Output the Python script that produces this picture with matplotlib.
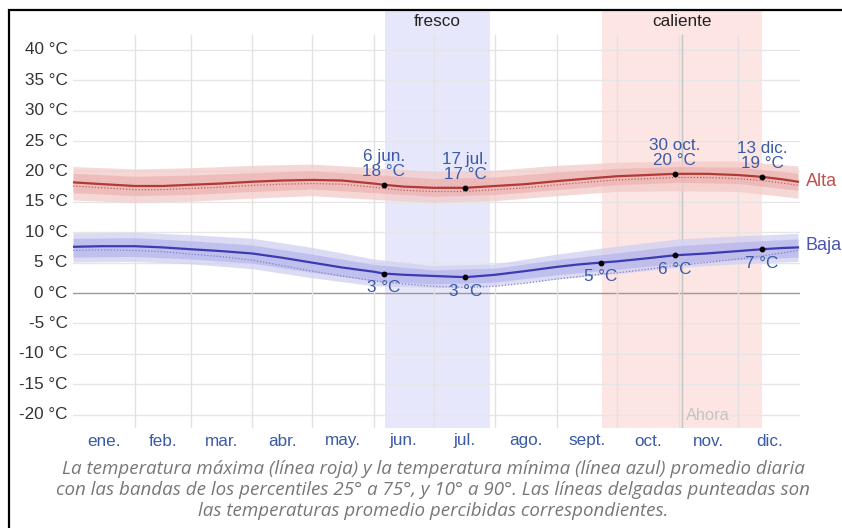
import numpy as np
import matplotlib.pyplot as plt
from matplotlib.patches import Rectangle

# día del año (0 = 1 ene.) para las curvas promedio
days = [0, 15, 31, 45, 59, 74, 90, 105, 120, 135, 151, 156, 166, 181, 197,
        212, 227, 243, 254, 265, 273, 288, 302, 318, 334, 346, 356, 364]
high = [18.2, 17.9, 17.6, 17.6, 17.8, 18.0, 18.3, 18.5, 18.6, 18.5, 18.0, 17.8, 17.5, 17.3, 17.3,
        17.6, 17.9, 18.4, 18.7, 19.0, 19.2, 19.4, 19.6, 19.6, 19.4, 19.1, 18.7, 18.3]
low = [7.6, 7.7, 7.7, 7.5, 7.2, 6.9, 6.5, 5.8, 5.0, 4.2, 3.5, 3.2, 3.0, 2.8, 2.6,
       3.0, 3.6, 4.3, 4.7, 5.0, 5.2, 5.7, 6.2, 6.5, 6.9, 7.2, 7.4, 7.5]
# temperaturas percibidas (líneas punteadas)
high_feel = [17.6, 17.3, 17.0, 17.0, 17.2, 17.4, 17.7, 17.9, 18.0, 17.9, 17.4, 17.2, 16.9, 16.7, 16.7,
             17.0, 17.3, 17.8, 18.1, 18.4, 18.6, 18.8, 19.0, 19.0, 18.8, 18.5, 18.1, 17.7]
low_feel = [7.0, 7.1, 7.0, 6.8, 6.4, 6.0, 5.4, 4.5, 3.6, 2.8, 2.0, 1.8, 1.5, 1.1, 0.9,
            1.1, 1.6, 2.3, 2.7, 3.1, 3.3, 3.9, 4.5, 5.0, 5.6, 6.1, 6.6, 7.0]

# bandas de percentiles (mensuales)
band_days = [0, 31, 59, 90, 120, 151, 181, 212, 243, 273, 304, 334, 364]
high_p90 = [20.8, 20.4, 20.6, 21.0, 21.2, 20.6, 20.0, 20.2, 21.0, 21.5, 21.7, 21.7, 20.9]
high_p75 = [19.7, 19.2, 19.4, 19.8, 20.1, 19.5, 18.8, 19.1, 19.9, 20.5, 20.8, 20.7, 19.7]
high_p25 = [16.5, 16.0, 16.2, 16.7, 17.1, 16.5, 15.9, 16.2, 17.0, 17.8, 18.2, 18.0, 16.9]
high_p10 = [15.3, 14.9, 15.1, 15.6, 16.0, 15.4, 14.9, 15.2, 16.0, 16.7, 16.8, 16.7, 15.6]
low_p90 = [9.9, 10.0, 9.6, 9.0, 7.5, 5.6, 4.5, 4.8, 6.4, 7.7, 8.9, 9.4, 9.8]
low_p75 = [9.0, 9.1, 8.6, 7.9, 6.4, 4.7, 3.8, 4.1, 5.5, 6.6, 7.8, 8.4, 8.9]
low_p25 = [5.9, 6.0, 5.6, 4.9, 3.4, 2.0, 1.5, 1.8, 3.0, 3.9, 4.9, 5.5, 5.9]
low_p10 = [5.1, 5.2, 4.8, 4.0, 2.5, 1.2, 0.9, 1.2, 2.3, 3.2, 4.2, 4.8, 5.2]

months = ['ene.', 'feb.', 'mar.', 'abr.', 'may.', 'jun.',
          'jul.', 'ago.', 'sept.', 'oct.', 'nov.', 'dic.']
month_starts = [0, 31, 59, 90, 120, 151, 181, 212, 243, 273, 304, 334, 365]

# estaciones (día inicial, día final, etiqueta, color)
seasons = [(156.5, 209.5, 'fresco', '#e7e7fb'), (265.5, 346.0, 'caliente', '#fde5e3')]
now_day = 306

# puntos anotados
high_marks = [(156, '6 jun.'), (197, '17 jul.'), (302, '30 oct.'), (346, '13 dic.')]
low_marks = [156, 197, 265, 302, 346]

yticks = list(range(-20, 45, 5))

W, H = 842, 528
fig = plt.figure(figsize=(W / 100, H / 100), dpi=100)
ax = fig.add_axes([73 / W, (H - 428) / H, 727 / W, 418 / H])
ymin, ymax = (293 - 428) / 6.08, (293 - 10) / 6.08
ax.set_xlim(0, 365)
ax.set_ylim(ymin, ymax)
ax.axis('off')

font = 'Liberation Sans'
blue_txt = '#3a5aa6'
fs = 12.3

# franjas de estación
for d0, d1, name, col in seasons:
    ax.axvspan(d0, d1, color=col, zorder=0, lw=0)
    ax.text((d0 + d1) / 2, (293 - 22) / 6.08, name, ha='center', va='center',
            fontsize=fs, color='#222222', family=font)

# cuadrícula
for t in yticks:
    ax.plot([0, 365], [t, t], color='#9a9a9a' if t == 0 else '#e6e6e6',
            lw=1.0, zorder=1)
    ax.text(-2.6, t, f'{t} °C', ha='right', va='center', fontsize=fs,
            color='#333333', family=font)
for d in month_starts[1:-1]:
    ax.plot([d, d], [ymin, 42.5], color='#e2e2e2', lw=1.0, zorder=1)
ax.plot([now_day, now_day], [ymin, 42.5], color='#c4c4c4', lw=1.0, zorder=1)
ax.text(now_day + 1.5, -20.1, 'Ahora', ha='left', va='center', fontsize=fs - 0.5,
        color='#c4c4c4', family=font)

for i, m in enumerate(months):
    ax.text((month_starts[i] + month_starts[i + 1]) / 2, ymin - 13 / 6.08, m,
            ha='center', va='center', fontsize=fs, color=blue_txt, family=font)

# bandas de percentiles
ax.fill_between(band_days, high_p10, high_p90, color='#f2cbc9', alpha=0.75, lw=0, zorder=2)
ax.fill_between(band_days, high_p25, high_p75, color='#eaa8a6', alpha=0.55, lw=0, zorder=2)
ax.fill_between(band_days, low_p10, low_p90, color='#d2d2f2', alpha=0.8, lw=0, zorder=2)
ax.fill_between(band_days, low_p25, low_p75, color='#ababea', alpha=0.55, lw=0, zorder=2)

# temperaturas percibidas
ax.plot(days, high_feel, color='#c06060', lw=0.9, ls=(0, (1, 1.5)), zorder=3)
ax.plot(days, low_feel, color='#8080c8', lw=0.9, ls=(0, (1, 1.5)), zorder=3)

# promedios
ax.plot(days, high, color='#b03a36', lw=1.6, zorder=4)
ax.plot(days, low, color='#3c3cb0', lw=1.6, zorder=4)

ax.text(368, high[-1], 'Alta', ha='left', va='center', fontsize=13,
        color='#c0504d', family=font, clip_on=False)
ax.text(368, low[-1] + 0.3, 'Baja', ha='left', va='center', fontsize=13,
        color='#4a55b0', family=font, clip_on=False)

for d, lab in high_marks:
    v = high[days.index(d)]
    ax.plot(d, v, 'o', color='black', ms=3.2, zorder=5)
    ax.annotate(f'{lab}\n{round(v)} °C', (d, v), xytext=(0, 4), textcoords='offset points',
                ha='center', va='bottom', fontsize=fs, color=blue_txt, family=font,
                linespacing=1.0, zorder=6)
for d in low_marks:
    v = low[days.index(d)]
    ax.plot(d, v, 'o', color='black', ms=3.2, zorder=5)
    ax.annotate(f'{round(v)} °C', (d, v), xytext=(0, -10), textcoords='offset points',
                ha='center', va='center', fontsize=fs, color=blue_txt, family=font,
                zorder=6)

# leyenda explicativa
caption = ('La temperatura máxima (línea roja) y la temperatura mínima (línea azul) promedio diaria\n'
           'con las bandas de los percentiles 25° a 75°, y 10° a 90°. Las líneas delgadas punteadas son\n'
           'las temperaturas promedio percibidas correspondientes.')
fig.text(433 / W, 1 - 490 / H, caption, ha='center', va='center', fontsize=13.5,
         style='italic', color='#777777', family='Open Sans', linespacing=1.2)

# marco
fig.patches.append(Rectangle((8.5 / W, -0.1), 1.2, 1 - 9.5 / H + 0.1, transform=fig.transFigure,
                             fill=False, edgecolor='black', lw=1.6))

fig.savefig('out.png', dpi=100)
